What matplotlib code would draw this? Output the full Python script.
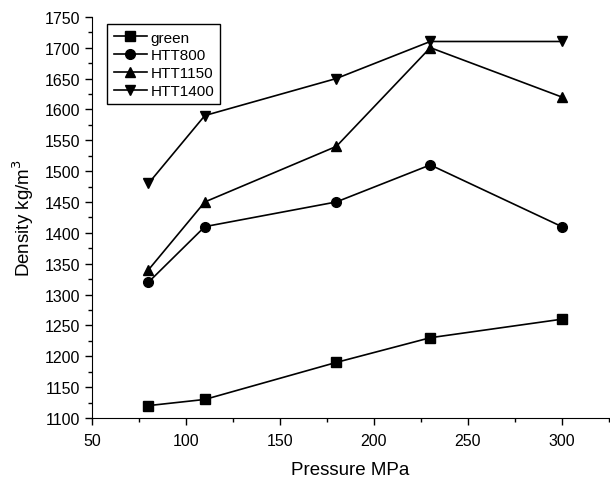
import matplotlib
matplotlib.use("Agg")
import matplotlib.pyplot as plt
from matplotlib.ticker import MultipleLocator

plt.rcParams['font.family'] = ['Liberation Sans', 'DejaVu Sans']

pressure = [80, 110, 180, 230, 300]
green = [1120, 1130, 1190, 1230, 1260]
htt800 = [1320, 1410, 1450, 1510, 1410]
htt1150 = [1340, 1450, 1540, 1700, 1620]
htt1400 = [1480, 1590, 1650, 1710, 1710]

fig = plt.figure(figsize=(6.1, 4.81), dpi=100)
ax = fig.add_axes([0.151, 0.129, 0.847, 0.834])

ax.plot(pressure, green, 'k-s', ms=6.5, lw=1.2, label='green')
ax.plot(pressure, htt800, 'k-o', ms=7, lw=1.2, label='HTT800')
ax.plot(pressure, htt1150, 'k-^', ms=7.5, lw=1.2, label='HTT1150')
ax.plot(pressure, htt1400, 'k-v', ms=7.5, lw=1.2, label='HTT1400')

ax.set_xlim(50, 325)
ax.set_ylim(1100, 1750)
ax.xaxis.set_major_locator(MultipleLocator(50))
ax.xaxis.set_minor_locator(MultipleLocator(25))
ax.yaxis.set_major_locator(MultipleLocator(50))
ax.yaxis.set_minor_locator(MultipleLocator(25))
ax.spines['top'].set_visible(False)
ax.spines['right'].set_visible(False)
ax.tick_params(which='major', direction='out', length=5, width=1, labelsize=11.5)
ax.tick_params(axis='x', which='major', pad=6)
ax.tick_params(which='minor', direction='out', length=3, width=1)

ax.set_xlabel('Pressure MPa', fontsize=13.5, labelpad=9)
ax.set_ylabel('Density kg/m$^3$', fontsize=13.5, labelpad=6)

leg = ax.legend(loc='upper left', bbox_to_anchor=(0.015, 1.0), fancybox=False,
                edgecolor='black', fontsize=11, handlelength=2.2,
                labelspacing=0.25, borderpad=0.4, handletextpad=0.2, framealpha=1)
leg.get_frame().set_linewidth(1)

fig.savefig('out.png', dpi=100)
